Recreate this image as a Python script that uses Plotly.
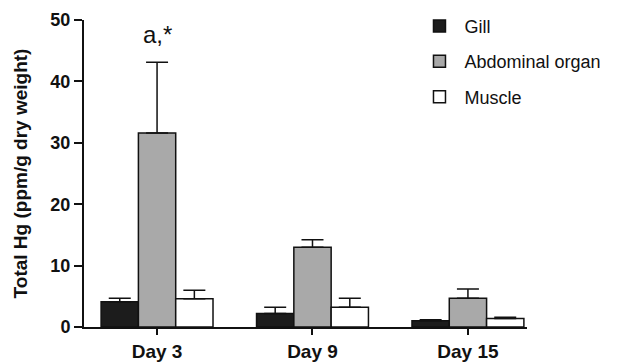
import plotly.graph_objects as go

days = ["Day 3", "Day 9", "Day 15"]
series_names = ["Gill", "Abdominal organ", "Muscle"]
gill = [4.1, 2.2, 1.0]
gill_err = [0.6, 1.0, 0.2]
abdominal = [31.6, 13.0, 4.7]
abdominal_err = [11.5, 1.2, 1.5]
muscle = [4.6, 3.2, 1.4]
muscle_err = [1.4, 1.5, 0.2]
y_ticks = [0, 10, 20, 30, 40, 50]

values = [gill, abdominal, muscle]
errors = [gill_err, abdominal_err, muscle_err]
colors = ["#1c1c1c", "#a9a9a9", "#ffffff"]

fig = go.Figure()
for name, v, e, c in zip(series_names, values, errors, colors):
    fig.add_trace(go.Bar(
        x=days, y=v, name=name, legendgroup=name,
        marker=dict(color=c, line=dict(color="#111111", width=1.5)),
        error_y=dict(type="data", array=e, arrayminus=[0] * len(e), symmetric=False,
                     color="#111111", thickness=1.5, width=11),
    ))

fig.add_annotation(x="Day 3", y=47.7, text="a,*", showarrow=False,
                   font=dict(size=24, color="#111111", family="Liberation Sans, Arial"))

fig.update_layout(
    width=633, height=364,
    margin=dict(l=76, r=114, t=12, b=45, autoexpand=False),
    paper_bgcolor="white", plot_bgcolor="white",
    barmode="group", bargap=0.28, bargroupgap=0,
    font=dict(family="Liberation Sans, Arial", color="#111111"),
    showlegend=True,
    legend=dict(x=0.746, y=1.04, xanchor="left", yanchor="top",
                traceorder="grouped", tracegroupgap=9, itemwidth=40,
                font=dict(size=18, color="#111111"), bgcolor="rgba(0,0,0,0)"),
    xaxis=dict(range=[-0.47, 2.38], showline=True, linecolor="#111111", linewidth=2,
               ticks="outside", ticklen=6, tickwidth=2, tickcolor="#111111",
               tickfont=dict(size=19, weight="bold"),
               showgrid=False, zeroline=False),
    yaxis=dict(range=[0, 50], tickvals=y_ticks, showline=True, linecolor="#111111", linewidth=2,
               ticks="outside", ticklen=8, tickwidth=2, tickcolor="#111111",
               tickfont=dict(size=18, weight="bold"),
               title=dict(text="Total Hg (ppm/g dry weight)", font=dict(size=19, weight="bold"), standoff=18),
               showgrid=False, zeroline=False),
)

fig.write_html("out.html")
